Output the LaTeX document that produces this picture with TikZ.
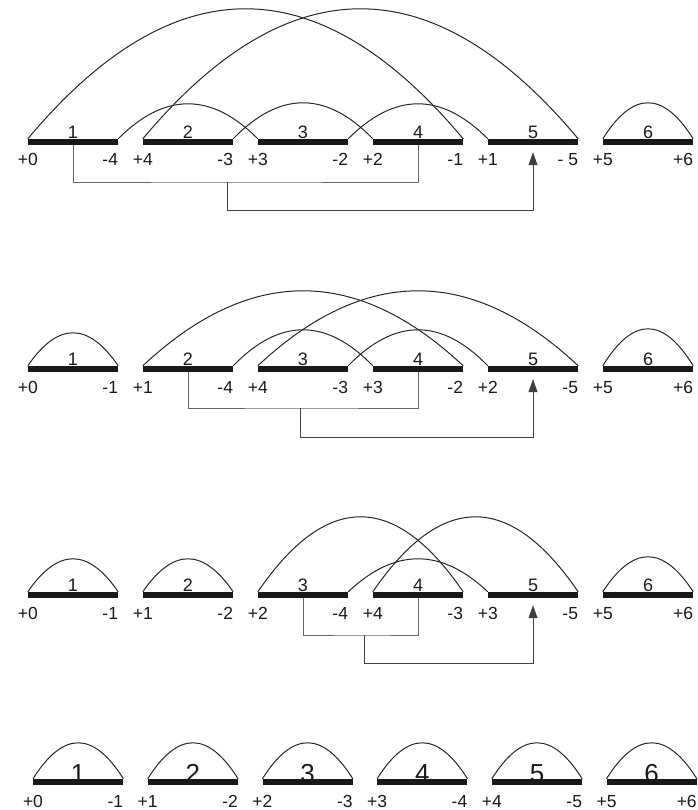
\documentclass[tikz,border=0pt]{standalone}
\usepackage{fontspec}
\setmainfont{Liberation Sans}
\usetikzlibrary{arrows.meta, calc, backgrounds}

\begin{document}
\begin{tikzpicture}[x=1pt, y=-1pt,
		seg/.style={rectangle, fill=black!90, inner sep=0pt, minimum width=90pt, minimum height=6pt},
		num/.style={anchor=base, inner sep=0pt, font=\fontsize{18}{18}\selectfont, text=black!90},
		bignum/.style={num, font=\fontsize{26}{26}\selectfont},
		tel/.style={inner sep=0pt, font=\fontsize{17.5}{17.5}\selectfont, text=black!90},
		adj/.style={black!85, line width=1pt},
		bracket/.style={black!60, line width=0.8pt},
		merge/.style={black!75, line width=0.8pt, -{Triangle[width=9pt, length=13pt]}, shorten >=7pt}
		]
		\useasboundingbox (0,0) rectangle (697,810);

		% row 1
		\foreach \i/\l/\r in {1/+0/-4, 2/+4/-3, 3/+3/-2, 4/+2/-1, 5/+1/- 5, 6/+5/+6} {
			\node [seg] (a\i) at ({-42+115*\i}, 142) {};
			\node [num] (a\i n) at (a\i.north) {\i};
			\node [tel, anchor=base] (a\i l) at ($(a\i.west)+(0,24)$) {\l};
			\node [tel, anchor=base east] (a\i r) at ($(a\i.east)+(0,24)$) {\r};
		}
		\foreach \p/\q/\h in {a1.north west/a4.north east/130, a2.north west/a5.north east/130,
				a1.north east/a3.north west/35, a2.north east/a4.north west/36,
				a3.north east/a5.north west/35, a6.north west/a6.north east/36}
			\draw [adj] (\p) .. controls ($(\p)!1/3!(\q)+(0,-4/3*\h)$) and ($(\p)!2/3!(\q)+(0,-4/3*\h)$) .. (\q);
		\coordinate (aj) at (227,182);
		\draw [bracket] (a1.south) |- (aj) -| (a4.south);
		\draw [merge] (aj) -- ++(0,28) -| (a5.south);

		% row 2
		\foreach \i/\l/\r in {1/+0/-1, 2/+1/-4, 3/+4/-3, 4/+3/-2, 5/+2/-5, 6/+5/+6} {
			\node [seg] (b\i) at ({-42+115*\i}, 369) {};
			\node [num] (b\i n) at (b\i.north) {\i};
			\node [tel, anchor=base] (b\i l) at ($(b\i.west)+(0,24)$) {\l};
			\node [tel, anchor=base east] (b\i r) at ($(b\i.east)+(0,24)$) {\r};
		}
		\foreach \p/\q/\h in {b1.north west/b1.north east/33, b2.north west/b4.north east/75,
				b2.north east/b4.north west/36, b3.north west/b5.north east/75,
				b3.north east/b5.north west/36, b6.north west/b6.north east/37}
			\draw [adj] (\p) .. controls ($(\p)!1/3!(\q)+(0,-4/3*\h)$) and ($(\p)!2/3!(\q)+(0,-4/3*\h)$) .. (\q);
		\coordinate (bj) at (300,408);
		\draw [bracket] (b2.south) |- (bj) -| (b4.south);
		\draw [merge] (bj) -- ++(0,29) -| (b5.south);

		% row 3
		\foreach \i/\l/\r in {1/+0/-1, 2/+1/-2, 3/+2/-4, 4/+4/-3, 5/+3/-5, 6/+5/+6} {
			\node [seg] (c\i) at ({-42+115*\i}, 595) {};
			\node [num] (c\i n) at (c\i.north) {\i};
			\node [tel, anchor=base] (c\i l) at ($(c\i.west)+(0,24)$) {\l};
			\node [tel, anchor=base east] (c\i r) at ($(c\i.east)+(0,24)$) {\r};
		}
		\foreach \p/\q/\h in {c1.north west/c1.north east/33, c2.north west/c2.north east/33,
				c3.north west/c4.north east/75, c3.north east/c5.north west/33,
				c4.north west/c5.north east/75, c6.north west/c6.north east/35}
			\draw [adj] (\p) .. controls ($(\p)!1/3!(\q)+(0,-4/3*\h)$) and ($(\p)!2/3!(\q)+(0,-4/3*\h)$) .. (\q);
		\coordinate (cj) at (364,635);
		\draw [bracket] (c3.south) |- (cj) -| (c4.south);
		\draw [merge] (cj) -- ++(0,28) -| (c5.south);

		% row 4
		\foreach \i/\l/\r in {1/+0/-1, 2/+1/-2, 3/+2/-3, 4/+3/-4, 5/+4/-5, 6/+5/+6} {
			\node [seg] (d\i) at ({-36.5+114.7*\i}, 782) {};
			\begin{scope}[on background layer]
				\node [bignum] (d\i n) at (d\i.center) {\i};
			\end{scope}
			\node [tel, anchor=base] (d\i l) at ($(d\i.west)+(0,25)$) {\l};
			\node [tel, anchor=base east] (d\i r) at ($(d\i.east)+(0,25)$) {\r};
			\draw [adj] (d\i.north west) .. controls ($(d\i.north west)!1/3!(d\i.north east)+(0,-48)$)
				and ($(d\i.north west)!2/3!(d\i.north east)+(0,-48)$) .. (d\i.north east);
		}
	\end{tikzpicture}
\end{document}
